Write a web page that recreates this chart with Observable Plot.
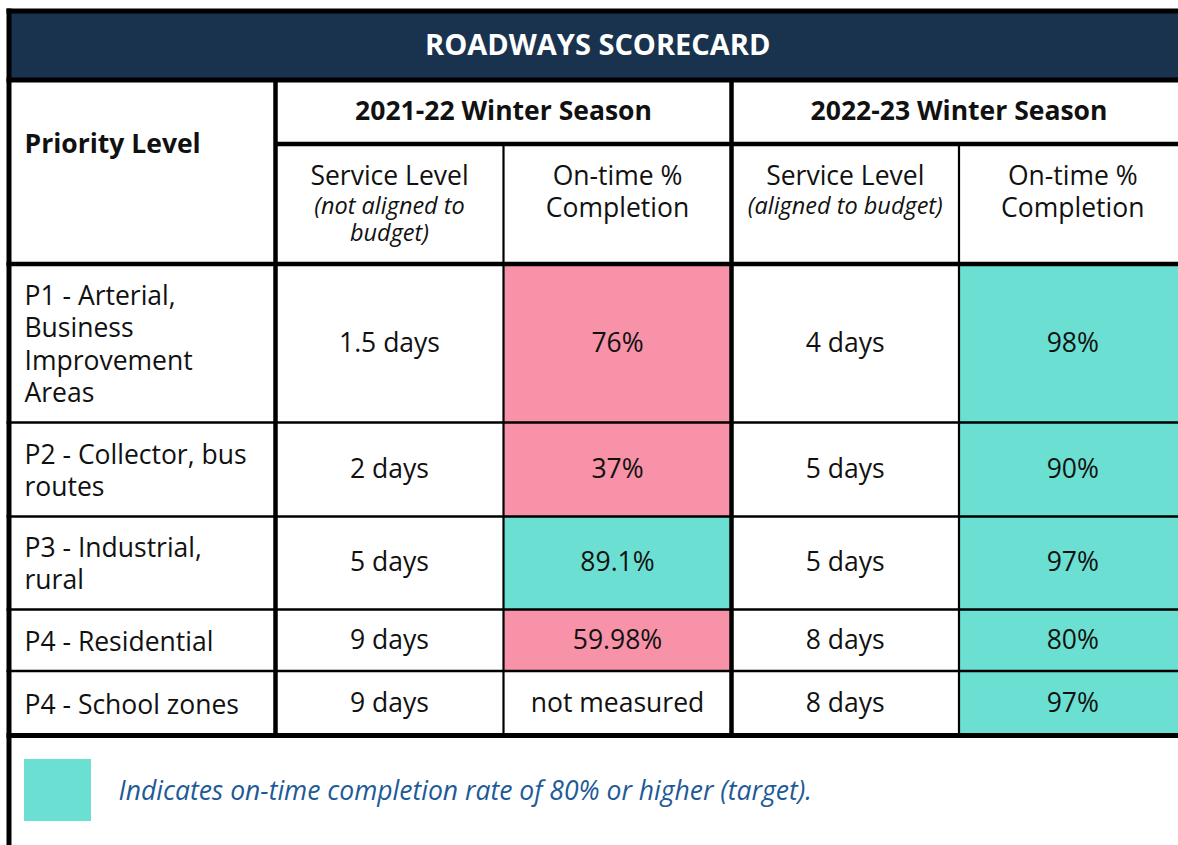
<!DOCTYPE html>
<html>
<head>
<meta charset="utf-8">
<script src="https://cdn.jsdelivr.net/npm/d3@7"></script>
<script src="https://cdn.jsdelivr.net/npm/@observablehq/plot@0.6"></script>
<style>
  html, body { margin: 0; padding: 0; background: #ffffff; }
  #chart { width: 1178px; height: 845px; overflow: hidden; }
</style>
</head>
<body>
<div id="chart"></div>
<script>
// ---------- data ----------
const title = "ROADWAYS SCORECARD";
const rowHeader = "Priority Level";
const seasons = ["2021-22 Winter Season", "2022-23 Winter Season"];
const serviceHeader = "Service Level";
const serviceNotes = ["(not aligned to\nbudget)", "(aligned to budget)"];
const ontimeHeader = "On-time %\nCompletion";
const priorities = [
  "P1 - Arterial,\nBusiness\nImprovement\nAreas",
  "P2 - Collector, bus\nroutes",
  "P3 - Industrial,\nrural",
  "P4 - Residential",
  "P4 - School zones"
];
const service2122 = ["1.5 days", "2 days", "5 days", "9 days", "9 days"];
const ontime2122 = [76, 37, 89.1, 59.98, null];
const ontime2122Labels = ["76%", "37%", "89.1%", "59.98%", "not measured"];
const service2223 = ["4 days", "5 days", "5 days", "8 days", "8 days"];
const ontime2223 = [98, 90, 97, 80, 97];
const ontime2223Labels = ["98%", "90%", "97%", "80%", "97%"];
const target = 80;
const legendText = "Indicates on-time completion rate of 80% or higher (target).";

// ---------- layout & style ----------
const W = 1178, H = 845;
const colEdges = [8.5, 275, 503, 731, 958.5, 1186];
const rowEdges = [263.5, 422, 516, 609, 670.5, 735];
const titleTop = 10.5, titleBottom = 79.5, seasonBottom = 143.5;
const NAVY = "#19334f", PINK = "#f792a8", TEAL = "#6be0d2", INK = "#111111", BLUE = "#1e5a98";
const FONT = "Open Sans";
const BODY = 26.5;
const fillFor = v => v == null ? "#ffffff" : (v >= target ? TEAL : PINK);

const rows = priorities.map((p, i) => ({
  i, p,
  s1: service2122[i], o1: ontime2122[i], l1: ontime2122Labels[i],
  s2: service2223[i], o2: ontime2223[i], l2: ontime2223Labels[i],
  y1: rowEdges[i], y2: rowEdges[i + 1], yc: (rowEdges[i] + rowEdges[i + 1]) / 2
}));
const cx = c => (colEdges[c] + colEdges[c + 1]) / 2;

const pctCells = rows.flatMap(r => [
  {x1: colEdges[2], x2: colEdges[3], y1: r.y1, y2: r.y2, fill: fillFor(r.o1)},
  {x1: colEdges[4], x2: colEdges[5], y1: r.y1, y2: r.y2, fill: fillFor(r.o2)}
]);

const hLines = [
  {x1: 6, x2: 1190, y: titleTop, w: 5},
  {x1: 6, x2: 1190, y: titleBottom, w: 5},
  {x1: colEdges[1], x2: 1190, y: seasonBottom, w: 4.5},
  {x1: 6, x2: 1190, y: rowEdges[0], w: 4.5},
  ...rowEdges.slice(1, -1).map(y => ({x1: 6, x2: 1190, y, w: 2.5})),
  {x1: 6, x2: 1190, y: rowEdges[rowEdges.length - 1], w: 5}
];
const vLines = [
  {x: colEdges[0], y1: 8, y2: H, w: 5},
  {x: colEdges[1], y1: titleBottom, y2: rowEdges[5], w: 4.5},
  {x: colEdges[2], y1: seasonBottom, y2: rowEdges[5], w: 2.2},
  {x: colEdges[3], y1: titleBottom, y2: rowEdges[5], w: 4.5},
  {x: colEdges[4], y1: seasonBottom, y2: rowEdges[5], w: 2.2}
];

const chart = Plot.plot({
  width: W, height: H, margin: 0,
  x: {type: "identity"}, y: {type: "identity"},
  style: {background: "#ffffff", fontFamily: FONT, overflow: "hidden"},
  marks: [
    Plot.rect([{x1: colEdges[0], x2: 1190, y1: titleTop, y2: titleBottom}], {x1: "x1", x2: "x2", y1: "y1", y2: "y2", fill: NAVY}),
    Plot.rect(pctCells, {x1: "x1", x2: "x2", y1: "y1", y2: "y2", fill: d => d.fill}),
    Plot.rect([{x1: 24, x2: 91, y1: 759, y2: 821}], {x1: "x1", x2: "x2", y1: "y1", y2: "y2", fill: TEAL}),
    Plot.link(hLines, {x1: "x1", x2: "x2", y1: "y", y2: "y", stroke: "#000", strokeWidth: "w"}),
    Plot.link(vLines, {x1: "x", x2: "x", y1: "y1", y2: "y2", stroke: "#000", strokeWidth: "w"}),
    Plot.text([title], {x: (colEdges[0] + colEdges[5]) / 2, y: 45, text: d => d, fill: "#ffffff", fontSize: 29, fontWeight: 700}),
    Plot.text([rowHeader], {x: 24, y: 144, text: d => d, textAnchor: "start", fill: INK, fontSize: BODY, fontWeight: 700}),
    Plot.text(seasons, {x: (d, i) => (colEdges[1 + 2 * i] + colEdges[3 + 2 * i]) / 2, y: 111, text: d => d, fill: INK, fontSize: BODY, fontWeight: 700}),
    Plot.text(seasons, {x: (d, i) => cx(1 + 2 * i), y: 176, text: () => serviceHeader, fill: INK, fontSize: BODY}),
    Plot.text(serviceNotes, {x: (d, i) => cx(1 + 2 * i), y: 206, text: d => d, lineAnchor: "top", dy: -12, fill: INK, fontSize: 23.5, fontStyle: "italic", lineHeight: 1.15}),
    Plot.text(seasons, {x: (d, i) => cx(2 + 2 * i), y: 190, text: () => ontimeHeader, fill: INK, fontSize: BODY, lineHeight: 1.21}),
    Plot.text(rows, {x: 24, y: "yc", text: "p", textAnchor: "start", fill: INK, fontSize: BODY, lineHeight: 1.21}),
    Plot.text(rows, {x: cx(1), y: "yc", text: "s1", fill: INK, fontSize: BODY}),
    Plot.text(rows, {x: cx(2), y: "yc", text: "l1", fill: INK, fontSize: BODY}),
    Plot.text(rows, {x: cx(3), y: "yc", text: "s2", fill: INK, fontSize: BODY}),
    Plot.text(rows, {x: cx(4), y: "yc", text: "l2", fill: INK, fontSize: BODY}),
    Plot.text([legendText], {x: 118, y: 791, text: d => d, textAnchor: "start", fill: BLUE, fontSize: BODY, fontStyle: "italic"})
  ]
});
document.getElementById("chart").appendChild(chart);
</script>
</body>
</html>
